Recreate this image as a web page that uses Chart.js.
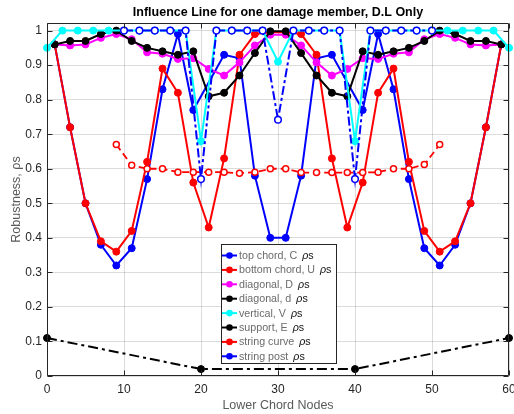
<!DOCTYPE html>
<html><head><meta charset="utf-8">
<script src="https://cdn.jsdelivr.net/npm/chart.js@4"></script>
<style>html,body{margin:0;padding:0;background:#fff}</style>
</head><body>
<canvas id="c" width="514" height="414"></canvas>
<script>
// ---- data ----
const xTicks = [0, 10, 20, 30, 40, 50, 60];
const yTicks = [0, 0.1, 0.2, 0.3, 0.4, 0.5, 0.6, 0.7, 0.8, 0.9, 1];

const topChordX = [1,3,5,7,9,11,13,15,17,19,23,25,27,29,31,33,35,37,41,43,45,47,49,51,53,55,57,59];
const topChordY = [0.96,0.72,0.50,0.38,0.32,0.37,0.57,0.83,0.99,0.77,0.93,0.92,0.58,0.40,0.40,0.58,0.92,0.93,0.77,0.99,0.83,0.57,0.37,0.32,0.38,0.50,0.72,0.96];

const bottomChordX = [1,3,5,7,9,11,13,15,17,19,21,23,25,27,29,31,33,35,37,39,41,43,45,47,49,51,53,55,57,59];
const bottomChordY = [0.96,0.72,0.50,0.39,0.36,0.42,0.62,0.89,0.82,0.56,0.43,0.63,0.93,0.99,0.995,0.995,0.99,0.93,0.63,0.43,0.56,0.82,0.89,0.62,0.42,0.36,0.39,0.50,0.72,0.96];

const diagDX = [1,3,5,7,9,11,13,15,17,19,21,23,25,27,29,31,33,35,37,39,41,43,45,47,49,51,53,55,57,59];
const diagDY = [0.96,0.957,0.96,0.979,0.99,0.975,0.937,0.933,0.918,0.92,0.889,0.87,0.908,0.957,0.988,0.988,0.957,0.908,0.87,0.889,0.92,0.918,0.933,0.937,0.975,0.99,0.979,0.96,0.957,0.96];

const diagdX = [1,3,5,7,9,11,13,15,17,19,21,23,25,27,29,31,33,35,37,39,41,43,45,47,49,51,53,55,57,59];
const diagdY = [0.96,0.97,0.97,0.99,1.00,0.97,0.95,0.94,0.93,0.94,0.81,0.82,0.87,0.935,0.998,0.998,0.935,0.87,0.82,0.81,0.94,0.93,0.94,0.95,0.97,1.00,0.99,0.97,0.97,0.96];

const verticalX = [0,2,4,6,8,10,12,14,16,18,20,22,24,26,28,30,32,34,36,38,40,42,44,46,48,50,52,54,56,58,60];
const verticalY = [0.95,1,1,1,1,1,1,1,1,1,0.68,1,1,1,1,0.91,1,1,1,1,0.68,1,1,1,1,1,1,1,1,1,0.95];

const supportX = [0, 20, 40, 60];
const supportY = [0.11, 0.02, 0.02, 0.11];

const stringCurveX = [9,11,13,15,17,19,21,23,25,27,29,31,33,35,37,39,41,43,45,47,49,51];
const stringCurveY = [0.67,0.61,0.60,0.60,0.59,0.59,0.59,0.59,0.587,0.59,0.60,0.60,0.589,0.589,0.589,0.589,0.589,0.59,0.60,0.60,0.612,0.67];

const stringPostX = [10,12,14,16,18,20,22,24,26,28,30,32,34,36,38,40,42,44,46,48,50];
const stringPostY = [1,1,1,1,1,0.57,1,1,1,1,0.742,1,1,1,1,0.57,1,1,1,1,1];

const labels = ['top chord, C \u03C1s','bottom chord, U \u03C1s','diagonal, D \u03C1s','diagonal, d \u03C1s','vertical, V \u03C1s','support, E \u03C1s','string curve \u03C1s','string post \u03C1s'];

// ---- build ----
function pts(xs, ys) { return xs.map((x, i) => ({x: x, y: ys[i]})); }
const BLUE='#0000ff', RED='#ff0000', MAG='#ff00ff', BLK='#000000', CYAN='#00ffff';

const series = [
  {d: pts(topChordX, topChordY), c: BLUE},
  {d: pts(bottomChordX, bottomChordY), c: RED},
  {d: pts(diagDX, diagDY), c: MAG},
  {d: pts(diagdX, diagdY), c: BLK},
  {d: pts(verticalX, verticalY), c: CYAN},
  {d: pts(supportX, supportY), c: BLK, dash: [10,4,3,4]},
  {d: pts(stringCurveX, stringCurveY), c: RED, dash: [7,4], open: true, r: 3, bw: 1.8},
  {d: pts(stringPostX, stringPostY), c: BLUE, dash: [9,3,3,3], open: true, r: 3.3, bw: 2}
];

const datasets = series.map((s, i) => ({
  label: labels[i],
  data: s.d,
  borderColor: s.c,
  backgroundColor: s.c,
  borderWidth: s.bw || 2,
  borderDash: s.dash || [],
  pointRadius: s.r || 3.5,
  pointHoverRadius: s.r || 3.5,
  pointBorderWidth: s.open ? 1.5 : 1,
  pointBorderColor: s.c,
  pointBackgroundColor: s.open ? '#ffffff' : s.c,
  tension: 0,
  fill: false,
  clip: false,
  order: 20 - i
}));

const FONT = "'Liberation Sans', Arial, Helvetica, sans-serif";
const AX = '#262626';

const framePlugin = {
  id: 'frame',
  beforeDraw(chart) {
    const ctx = chart.ctx;
    ctx.save(); ctx.fillStyle = '#fff'; ctx.fillRect(0, 0, chart.width, chart.height); ctx.restore();
  },
  afterDatasetsDraw(chart) {
    const {ctx, chartArea: a, scales: {x, y}} = chart;
    ctx.save();
    ctx.strokeStyle = AX; ctx.lineWidth = 1;
    ctx.beginPath();
    const L = Math.round(a.left) + 0.5, R = Math.round(a.right) - 0.5, T = Math.round(a.top) + 0.5, B = Math.round(a.bottom) - 0.5;
    ctx.rect(L, T, R - L, B - T);
    const tl = 5;
    xTicks.forEach(v => {
      const px = Math.round(x.getPixelForValue(v)) + 0.5;
      ctx.moveTo(px, B); ctx.lineTo(px, B - tl);
      ctx.moveTo(px, T); ctx.lineTo(px, T + tl);
    });
    yTicks.forEach(v => {
      const py = Math.round(y.getPixelForValue(v)) + 0.5;
      ctx.moveTo(L, py); ctx.lineTo(L + tl, py);
      ctx.moveTo(R, py); ctx.lineTo(R - tl, py);
    });
    ctx.stroke();
    ctx.restore();
  },
  afterDraw(chart) {
    const ctx = chart.ctx;
    const bx = 221, by = 244, bw = 115, bh = 119;
    ctx.save();
    ctx.fillStyle = '#fff'; ctx.fillRect(bx, by, bw, bh);
    ctx.strokeStyle = AX; ctx.lineWidth = 1; ctx.strokeRect(bx + 0.5, by + 0.5, bw, bh);
    ctx.beginPath(); ctx.rect(bx, by, bw + 1, bh + 1); ctx.clip();
    chart.data.datasets.forEach((ds, i) => {
      const cy = 255.5 + i * 14.4;
      ctx.strokeStyle = ds.borderColor; ctx.lineWidth = 2; ctx.setLineDash([]);
      ctx.beginPath(); ctx.moveTo(bx + 1, cy); ctx.lineTo(bx + 16, cy); ctx.stroke();
      ctx.fillStyle = ds.borderColor;
      ctx.beginPath(); ctx.arc(bx + 8.5, cy, 3.3, 0, Math.PI * 2); ctx.fill();
      const m = ds.label.match(/^(.*?)\s*(\u03C1s)$/);
      const main = m ? m[1] : ds.label;
      ctx.textBaseline = 'middle'; ctx.textAlign = 'left';
      ctx.font = '10.7px ' + FONT; ctx.fillStyle = '#6b6b6b';
      ctx.fillText(main, bx + 18, cy + 0.5);
      const w = ctx.measureText(main + ' ').width + 2;
      if (m) {
        ctx.fillStyle = '#111';
        ctx.font = 'italic 10.7px ' + FONT; ctx.fillText('\u03C1', bx + 18 + w, cy + 0.5);
        const w2 = ctx.measureText('\u03C1').width;
        ctx.font = '10.7px ' + FONT; ctx.fillText('s', bx + 18 + w + w2, cy + 0.5);
      }
    });
    ctx.restore();
  }
};

new Chart(document.getElementById('c'), {
  type: 'line',
  data: {datasets: datasets},
  options: {
    responsive: false,
    animation: false,
    devicePixelRatio: 1,
    layout: {padding: {left: 0, right: 5, top: 0, bottom: 0}},
    plugins: {
      legend: {display: false},
      tooltip: {enabled: false},
      title: {
        display: true, fullSize: false,
        text: 'Influence Line for one damage member, D.L Only',
        color: '#000',
        font: {family: FONT, size: 12.5, weight: 'bold'},
        padding: {top: 5, bottom: 3}
      }
    },
    scales: {
      x: {
        type: 'linear', min: 0, max: 60,
        afterBuildTicks(s) { s.ticks = xTicks.map(v => ({value: v})); },
        afterFit(s) { s.height = 38; s.paddingLeft = 0; s.paddingRight = 0; },
        grid: {color: 'rgba(0,0,0,0.14)', drawTicks: false, tickLength: 0},
        border: {display: false},
        ticks: {color: AX, font: {family: FONT, size: 12}, padding: 6, maxRotation: 0, autoSkip: false,
                callback: v => String(v)},
        title: {display: true, text: 'Lower Chord Nodes', color: '#5a5a5a',
                font: {family: FONT, size: 12.5}, padding: {top: 0, bottom: 0.5}}
      },
      y: {
        type: 'linear', min: 0, max: 1.022,
        afterBuildTicks(s) { s.ticks = yTicks.map(v => ({value: v})); },
        afterFit(s) { s.width = 47; s.paddingTop = 0; s.paddingBottom = 0; },
        grid: {color: 'rgba(0,0,0,0.14)', drawTicks: false, tickLength: 0},
        border: {display: false},
        ticks: {color: AX, font: {family: FONT, size: 12}, padding: 5, autoSkip: false,
                callback: v => String(Math.round(v * 10) / 10)},
        title: {display: true, text: 'Robustness, \u03C1s', color: '#5a5a5a',
                font: {family: FONT, size: 12.5}, padding: {top: 9.5, bottom: 0}}
      }
    }
  },
  plugins: [framePlugin]
});
</script>
</body></html>
